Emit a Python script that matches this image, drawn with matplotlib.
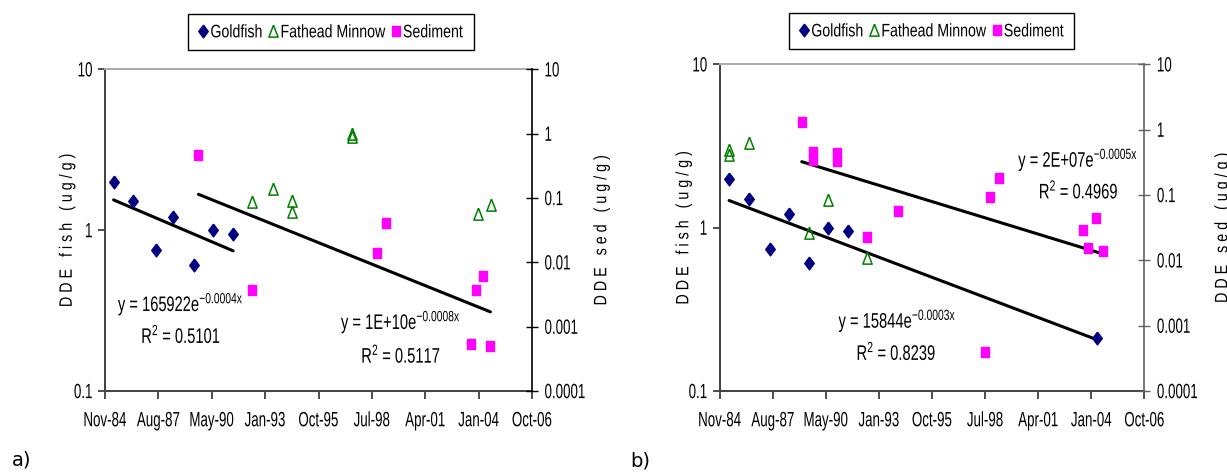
import numpy as np
import pandas as pd
import matplotlib
matplotlib.use('Agg')
import matplotlib.pyplot as plt
from matplotlib.ticker import FixedLocator, FixedFormatter, NullLocator
from matplotlib.patheffects import AbstractPathEffect
from matplotlib.transforms import Affine2D

# x values are Excel date serials (days since 1899-12-30), as in the workbook
XTICKS = list(range(31000, 39001, 1000))
FISH_TICKS = [0.1, 1, 10]
FISH_LABELS = ['0.1', '1', '10']
SED_TICKS = [0.0001, 0.001, 0.01, 0.1, 1, 10]
SED_LABELS = ['0.0001', '0.001', '0.01', '0.1', '1', '10']
SERIES = ['Goldfish', 'Fathead Minnow', 'Sediment']

# ---- panel a ----
gold_a_x = [31160, 31530, 31960, 32270, 32670, 33030, 33400]
gold_a_y = [2.0, 1.52, 0.75, 1.21, 0.61, 1.0, 0.94]
minnow_a_x = [33760, 34140, 34510, 34510, 35630, 35630, 37980, 38230]
minnow_a_y = [1.50, 1.79, 1.51, 1.29, 3.98, 3.8, 1.26, 1.43]
sed_a_x = [32750, 33760, 36100, 36270, 37850, 37950, 38080, 38220]
sed_a_y = [0.47, 0.0037, 0.014, 0.041, 0.00053, 0.0037, 0.0061, 0.0005]
eq_a = ['y = 165922e$^{-0.0004x}$', 'R$^{2}$ = 0.5101',
        'y = 1E+10e$^{-0.0008x}$', 'R$^{2}$ = 0.5117']

# ---- panel b ----
gold_b_x = [31176, 31544, 31946, 32297, 32687, 33047, 33413, 38105]
gold_b_y = [1.99, 1.49, 0.74, 1.21, 0.605, 1.0, 0.955, 0.21]
minnow_b_x = [31176, 31176, 31544, 32687, 33047, 33767]
minnow_b_y = [2.99, 2.79, 3.29, 0.93, 1.48, 0.65]
sed_b_x = [32545, 32757, 32757, 33200, 33200, 33767, 34365, 36000,
           36094, 36254, 37842, 37942, 38084, 38223]
sed_b_y = [1.30, 0.46, 0.34, 0.44, 0.33, 0.0226, 0.057, 0.00039,
           0.092, 0.18, 0.029, 0.0153, 0.044, 0.014]
eq_b = ['y = 2E+07e$^{-0.0005x}$', 'R$^{2}$ = 0.4969',
        'y = 15844e$^{-0.0003x}$', 'R$^{2}$ = 0.8239']

plt.rcParams['font.family'] = ['Liberation Sans', 'DejaVu Sans']
plt.rcParams['mathtext.default'] = 'regular'

NAVY = '#000080'
GREEN = '#008000'
MAGENTA = '#FF00FF'
DIAMOND = [(0, 1), (0.75, 0), (0, -1), (-0.75, 0), (0, 1)]
TRIANGLE = [(0, 1), (0.74, -0.9), (-0.74, -0.9), (0, 1)]
SQUARE = [(-0.71, -1), (0.71, -1), (0.71, 1), (-0.71, 1), (-0.71, -1)]


class Stretch(AbstractPathEffect):
    """Draw glyphs taller than the font (the original uses a tall narrow face)."""

    def __init__(self, sy, y0=36):
        super().__init__()
        self.sy = sy
        self.y0 = y0

    def draw_path(self, renderer, gc, tpath, affine, rgbFace=None):
        t = Affine2D().translate(0, -self.y0).scale(1, self.sy).translate(0, self.y0)
        renderer.draw_path(gc, tpath, t + affine, rgbFace)


def excel_label(serial):
    d = pd.Timestamp('1899-12-30') + pd.Timedelta(days=int(serial))
    return d.strftime('%b-%y')


def trend(ax, x, y):
    # exponential trendline, like Excel's
    x = np.asarray(x, float)
    y = np.asarray(y, float)
    b, a = np.polyfit(x, np.log(y), 1)
    xs = np.linspace(x.min(), x.max(), 60)
    ax.plot(xs, np.exp(a + b * xs), color='black', lw=2.2, zorder=2,
            solid_capstyle='round')


def panel(fig, rect, gold, minnow, sed, eqs, eq_pos, right_color,
          llabel_x, rlabel_x, legend_xy):
    ax = fig.add_axes(rect)
    ax2 = ax.twinx()

    h1, = ax.plot(*gold, ls='none', marker=DIAMOND, ms=9.2, color=NAVY,
                  mec=NAVY, zorder=3)
    h2, = ax.plot(*minnow, ls='none', marker=TRIANGLE, ms=9, mfc='none',
                  mec=GREEN, mew=1.1, zorder=3)
    h3, = ax2.plot(*sed, ls='none', marker=SQUARE, ms=7.3, color=MAGENTA,
                   mec=MAGENTA, zorder=3)
    trend(ax, *gold)
    trend(ax2, *sed)

    ax.set_xlim(XTICKS[0], XTICKS[-1])
    ax.set_yscale('log')
    ax.set_ylim(0.1, 10)
    ax2.set_yscale('log')
    ax2.set_ylim(0.0001, 10)

    ax.xaxis.set_major_locator(FixedLocator(XTICKS))
    ax.xaxis.set_major_formatter(FixedFormatter([excel_label(t) for t in XTICKS]))
    ax.yaxis.set_major_locator(FixedLocator(FISH_TICKS))
    ax.yaxis.set_major_formatter(FixedFormatter(FISH_LABELS))
    ax.yaxis.set_minor_locator(NullLocator())
    ax2.yaxis.set_major_locator(FixedLocator(SED_TICKS))
    ax2.yaxis.set_major_formatter(FixedFormatter(SED_LABELS))
    ax2.yaxis.set_minor_locator(NullLocator())

    ax.tick_params(axis='x', direction='out', length=6, width=1.2,
                   color='#303030', labelsize=9.6, pad=11)
    ax.tick_params(axis='y', direction='out', length=5, width=1.2,
                   color='#303030', labelsize=9.6, pad=4)
    ax2.tick_params(axis='y', direction='inout', length=8, width=1,
                    color=right_color, labelsize=9.6, pad=5)
    for lbl in ax.get_xticklabels() + ax.get_yticklabels() + ax2.get_yticklabels():
        lbl.set_path_effects([Stretch(1.55)])

    for s in ['left', 'bottom']:
        ax.spines[s].set_color('#404040')
        ax.spines[s].set_linewidth(1.4)
    ax.spines['top'].set_color('#aaaaaa')
    ax.spines['top'].set_linewidth(1.4)
    ax.spines['right'].set_visible(False)
    for s in ['left', 'bottom', 'top']:
        ax2.spines[s].set_visible(False)
    ax2.spines['right'].set_color(right_color)
    ax2.spines['right'].set_linewidth(1.2)

    ax.set_ylabel('D D E   f i s h   ( u g / g )', fontsize=10.3)
    ax.yaxis.set_label_coords(llabel_x, 0.5)
    ax2.set_ylabel('D D E   s e d   ( u g / g )', fontsize=10.3)
    ax2.yaxis.set_label_coords(rlabel_x, 0.5)
    ax.yaxis.label.set_path_effects([Stretch(1.25)])
    ax2.yaxis.label.set_path_effects([Stretch(1.25)])

    for txt, (tx, ty) in zip(eqs, eq_pos):
        t = ax.text(tx, ty, txt, fontsize=10.6, ha='left', va='baseline', zorder=4)
        t.set_path_effects([Stretch(1.43, y0=0)])

    leg = fig.legend([h1, h2, h3], SERIES,
                     loc='center', bbox_to_anchor=legend_xy, ncol=3,
                     frameon=True, fancybox=False, edgecolor='black',
                     framealpha=1, fontsize=10.2, handlelength=0.7,
                     handletextpad=0.15, columnspacing=0.4, borderpad=0.75,
                     borderaxespad=0)
    leg.get_frame().set_linewidth(1.0)
    for t in leg.get_texts():
        t.set_path_effects([Stretch(1.28)])
    return ax, ax2


fig = plt.figure(figsize=(12.27, 4.76), dpi=100)

panel(fig, [0.0856, 0.1786, 0.3480, 0.6758],
      (gold_a_x, gold_a_y), (minnow_a_x, minnow_a_y), (sed_a_x, sed_a_y),
      eq_a, [(31241, 0.314), (31678, 0.199), (35420, 0.243), (35800, 0.150)],
      'black', -0.074, 1.145, (0.2695, 0.933))

panel(fig, [0.5866, 0.1786, 0.3461, 0.6863],
      (gold_b_x, gold_b_y), (minnow_b_x, minnow_b_y), (sed_b_x, sed_b_y),
      eq_b, [(36623, 2.36), (37011, 1.51), (33237, 0.244), (33576, 0.155)],
      '#606060', -0.070, 1.166, (0.7592, 0.935))

fig.text(0.010, 0.034, 'a)', fontsize=14, family='DejaVu Sans', va='center')
fig.text(0.514, 0.032, 'b)', fontsize=14, family='DejaVu Sans', va='center')

fig.savefig('out.png', dpi=100, facecolor='white')
